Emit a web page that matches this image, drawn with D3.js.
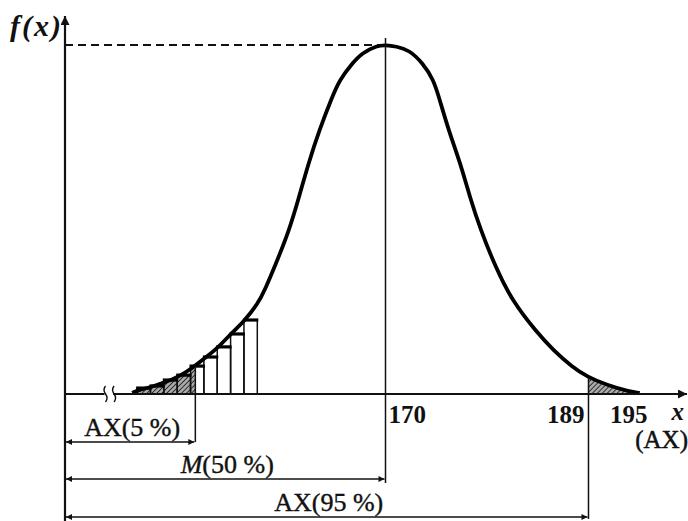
<!DOCTYPE html>
<html>
<head>
<meta charset="utf-8">
<script src="https://cdn.jsdelivr.net/npm/d3@7"></script>
<style>
  body { margin: 0; background: #fff; }
  text { font-family: "Liberation Serif", "Times New Roman", serif; fill: #111; }
</style>
</head>
<body>
<div id="chart"></div>
<script>
var svgWidth = 688;
var svgHeight = 521;

// curve f(x) (x in AX units, f relative to the peak)
var curveX = [146.3, 146.8, 148.1, 149.4, 150.6, 151.9, 153.1, 154.3, 155.6, 156.7, 158.1, 158.7,
              159.7, 161.0, 161.9, 162.8, 163.8, 165.0, 165.7, 166.9, 167.8, 169.2, 170.0,
              171.0, 172.2, 173.5, 174.5, 175.0, 175.9, 177.0, 177.9, 178.9, 180.3, 181.8,
              184.2, 185.7, 187.5, 188.9, 190.7, 192.9, 193.8];
var curveF = [0.003, 0.011, 0.020, 0.034, 0.049, 0.074, 0.103, 0.132, 0.175, 0.206, 0.261, 0.298,
              0.370, 0.470, 0.564, 0.662, 0.756, 0.851, 0.900, 0.948, 0.977, 0.998, 1.000,
              0.996, 0.986, 0.948, 0.900, 0.851, 0.756, 0.662, 0.564, 0.470, 0.364, 0.269,
              0.175, 0.126, 0.077, 0.049, 0.026, 0.006, 0.003];

// histogram steps under the left tail
var barStart = [146.75, 148, 149.25, 150.5, 151.75, 153, 154.25, 155.5, 156.75];
var barHeight = [0.017, 0.023, 0.040, 0.054, 0.080, 0.106, 0.135, 0.172, 0.212];
var barWidth = 1.25;

// percentiles
var p5 = 152.2;
var p50 = 170;
var p95 = 189;
var p95F = 0.047;

var tickValues = [170, 189, 195];
var tickLabels = ["170", "189", "195"];
var dimLabels = ["AX(5 %)", "M(50 %)", "AX(95 %)"];
var breakAt = [143.7, 144.5];

var x = d3.scaleLinear().domain([140, 200]).range([65, 706]);
var y = d3.scaleLinear().domain([0, 1]).range([394, 45]);
var x0 = x(140), y0 = y(0);

var svg = d3.select("#chart")
  .append("svg")
  .attr("width", svgWidth)
  .attr("height", svgHeight);

var defs = svg.append("defs");
var pat = defs.append("pattern")
  .attr("id", "hatch")
  .attr("patternUnits", "userSpaceOnUse")
  .attr("width", 3.5).attr("height", 3.5)
  .attr("patternTransform", "rotate(45)");
pat.append("rect").attr("width", 3.5).attr("height", 3.5).attr("fill", "#aaa");
pat.append("line").attr("x1", 0).attr("y1", 0).attr("x2", 0).attr("y2", 3.5)
  .attr("stroke", "#222").attr("stroke-width", 1.8);

function arrowMarker(id, w, h) {
  defs.append("marker")
    .attr("id", id)
    .attr("viewBox", "0 0 10 10")
    .attr("refX", 10).attr("refY", 5)
    .attr("markerUnits", "userSpaceOnUse")
    .attr("markerWidth", w).attr("markerHeight", h)
    .attr("orient", "auto-start-reverse")
    .append("path").attr("d", "M0,0 L10,5 L0,10 Z").attr("fill", "#111");
}
arrowMarker("dim", 10, 6);
arrowMarker("axis", 14, 9);

var pts = curveX.map(function(d, i) { return [d, curveF[i]]; });

// right tail shading
var tail = [[p95, p95F]].concat(pts.filter(function(d) { return d[0] > p95; }));
svg.append("path")
  .datum(tail)
  .attr("fill", "url(#hatch)")
  .attr("d", d3.area().x(d => x(d[0])).y0(y0).y1(d => y(d[1])).curve(d3.curveMonotoneX));

// left bars
svg.append("g").selectAll("rect")
  .data(barStart.filter(d => d < p5))
  .enter().append("rect")
  .attr("x", d => x(d))
  .attr("y", (d, i) => y(barHeight[i]))
  .attr("width", d => x(Math.min(d + barWidth, p5)) - x(d))
  .attr("height", (d, i) => y0 - y(barHeight[i]))
  .attr("fill", "url(#hatch)");

svg.append("g").selectAll("path")
  .data(barStart)
  .enter().append("path")
  .attr("d", (d, i) => "M" + x(d) + "," + y0 + "V" + y(barHeight[i]) + "M" + x(d + barWidth) + "," + y0 + "V" + y(barHeight[i]))
  .attr("stroke", "#111")
  .attr("stroke-width", 1.5);

svg.append("g").selectAll("line")
  .data(barStart)
  .enter().append("line")
  .attr("x1", d => x(d) - 1).attr("x2", d => x(d + barWidth) + 1)
  .attr("y1", (d, i) => y(barHeight[i])).attr("y2", (d, i) => y(barHeight[i]))
  .attr("stroke", "#000")
  .attr("stroke-width", 3.2);

// dashed line to the peak
svg.append("line")
  .attr("x1", x0).attr("x2", x(p50))
  .attr("y1", y(1)).attr("y2", y(1))
  .attr("stroke", "#111").attr("stroke-width", 2)
  .attr("stroke-dasharray", "8,5");

// the curve
svg.append("path")
  .datum(pts)
  .attr("fill", "none")
  .attr("stroke", "#000")
  .attr("stroke-width", 3.8)
  .attr("d", d3.line().x(d => x(d[0])).y(d => y(d[1])).curve(d3.curveBasis));

// axes
svg.append("line")
  .attr("x1", x0).attr("x2", x0).attr("y1", svgHeight).attr("y2", 16)
  .attr("stroke", "#111").attr("stroke-width", 2.2)
  .attr("marker-end", "url(#axis)");

svg.append("line")
  .attr("x1", x0).attr("x2", x(breakAt[0]))
  .attr("y1", y0).attr("y2", y0)
  .attr("stroke", "#111").attr("stroke-width", 1.8);
svg.append("line")
  .attr("x1", x(breakAt[1])).attr("x2", 687)
  .attr("y1", y0).attr("y2", y0)
  .attr("stroke", "#111").attr("stroke-width", 1.8)
  .attr("marker-end", "url(#axis)");

svg.append("g").selectAll("path")
  .data(breakAt)
  .enter().append("path")
  .attr("d", d => "M" + (x(d) + 1) + "," + (y0 - 8) + "q-3,4 0,8 q3,4 0,8")
  .attr("fill", "none")
  .attr("stroke", "#111")
  .attr("stroke-width", 1.4);

// vertical guide lines
var b5 = barStart.findIndex(d => d <= p5 && p5 < d + barWidth);
var guides = [
  { v: p50, top: y(1) - 7, bottom: 483 },
  { v: p95, top: y(p95F), bottom: 519 },
  { v: p5, top: y(barHeight[b5]), bottom: 442 }
];
svg.append("g").selectAll("line")
  .data(guides)
  .enter().append("line")
  .attr("x1", d => x(d.v)).attr("x2", d => x(d.v))
  .attr("y1", d => d.top).attr("y2", d => d.bottom)
  .attr("stroke", "#111").attr("stroke-width", 1.5);

// dimension arrows
var dims = [
  { v: p5, yy: 442 },
  { v: p50, yy: 479 },
  { v: p95, yy: 517 }
];
var dimG = svg.append("g");
dimG.selectAll("line")
  .data(dims)
  .enter().append("line")
  .attr("x1", x0 + 1).attr("x2", d => x(d.v) - 1)
  .attr("y1", d => d.yy).attr("y2", d => d.yy)
  .attr("stroke", "#111").attr("stroke-width", 1.4)
  .attr("marker-start", "url(#dim)")
  .attr("marker-end", "url(#dim)");

dimG.selectAll("text")
  .data(dims)
  .enter().append("text")
  .attr("x", d => (x0 + x(d.v)) / 2 + 2)
  .attr("y", d => d.yy - 6)
  .attr("text-anchor", "middle")
  .attr("font-size", 26)
  .attr("stroke", "#111").attr("stroke-width", 0.4)
  .each(function(d, i) {
    var t = d3.select(this);
    var lab = dimLabels[i];
    if (lab[0] === "M") {
      t.append("tspan").attr("font-style", "italic").text("M");
      t.append("tspan").text(lab.slice(1));
    } else {
      t.text(lab);
    }
  });

// tick labels
var tickG = svg.append("g");
tickG.selectAll("text")
  .data(tickValues)
  .enter().append("text")
  .attr("x", d => x(d))
  .attr("dx", (d, i) => [3, -4, -5][i])
  .attr("y", 423)
  .attr("text-anchor", (d, i) => i === 0 ? "start" : "end")
  .attr("font-size", 25)
  .attr("font-weight", "bold")
  .text((d, i) => tickLabels[i]);

svg.append("text")
  .attr("x", x(195) + 19).attr("y", 420)
  .attr("font-size", 25).attr("font-style", "italic").attr("font-weight", "bold")
  .text("x");
svg.append("text")
  .attr("x", 688).attr("y", 448)
  .attr("text-anchor", "end")
  .attr("font-size", 25)
  .attr("stroke", "#111").attr("stroke-width", 0.5)
  .text("(AX)");

svg.append("text")
  .attr("x", 10).attr("y", 36)
  .attr("font-size", 30).attr("font-style", "italic").attr("font-weight", "bold")
  .attr("letter-spacing", 2)
  .text("f(x)");
</script>
</body>
</html>
